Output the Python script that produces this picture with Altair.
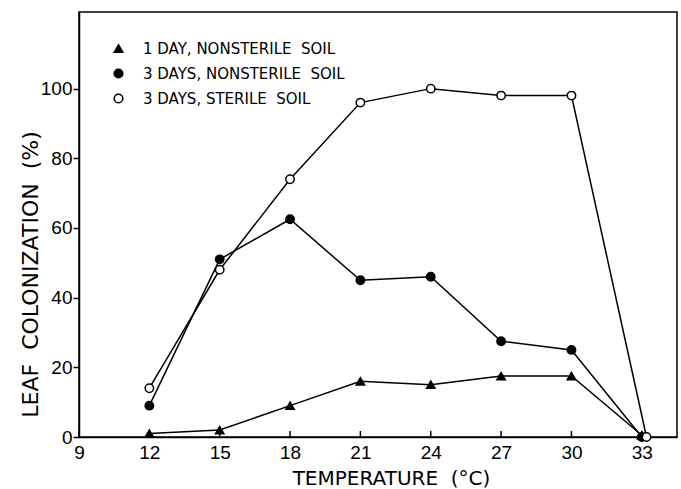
import altair as alt
import pandas as pd

temps = [12, 15, 18, 21, 24, 27, 30, 33]
temps_open = [12, 15, 18, 21, 24, 27, 30, 33.2]
day1_nonsterile = [1, 2, 9, 16, 15, 17.5, 17.5, 0.5]
day3_nonsterile = [9, 51, 62.5, 45, 46, 27.5, 25, 0]
day3_sterile = [14, 48, 74, 96, 100, 98, 98, 0]
NB = "\u00a0"
series_names = ["1 DAY, NONSTERILE " + NB + "SOIL",
                "3 DAYS, NONSTERILE " + NB + "SOIL",
                "3 DAYS, STERILE " + NB + "SOIL"]
x_title = "TEMPERATURE " + NB + "(°C)"
y_title = "LEAF " + NB + "COLONIZATION " + NB + "(%)"
x_ticks = [9, 12, 15, 18, 21, 24, 27, 30, 33]
y_ticks = [0, 20, 40, 60, 80, 100]

rows = []
for xs, vals, name in [(temps, day1_nonsterile, series_names[0]),
                       (temps, day3_nonsterile, series_names[1]),
                       (temps_open, day3_sterile, series_names[2])]:
    for t, v in zip(xs, vals):
        rows.append({"temp": t, "col": v, "series": name})
df = pd.DataFrame(rows)
ticks_df = pd.DataFrame({"t": x_ticks})

W, H = 598, 425
FONT = "DejaVu Sans"
NUMFONT = "Liberation Sans"

xscale = alt.Scale(domain=[9, 34.5], nice=False, zero=False)
yscale = alt.Scale(domain=[0, 122], nice=False)

x_enc = alt.X("temp:Q", scale=xscale,
              axis=alt.Axis(values=x_ticks, title=x_title, ticks=False,
                            grid=False, labelFontSize=19, titleFontSize=20,
                            labelFont=NUMFONT, labelPadding=6, labelFlush=False,
                            titleBaseline="alphabetic", titleX=312, titleY=47))
y_enc = alt.Y("col:Q", scale=yscale,
              axis=alt.Axis(values=y_ticks, title=y_title, tickSize=6,
                            grid=False, labelFontSize=19, titleFontSize=22,
                            labelFont=NUMFONT, labelPadding=1, labelFlush=False,
                            titleX=-37, titleY=262))

lines = alt.Chart(df).mark_line(color="black", strokeWidth=1.5).encode(
    x=x_enc, y=y_enc, detail="series:N", order="temp:Q"
)

points = alt.Chart(df).mark_point(size=70, strokeWidth=1.5, opacity=1).encode(
    x="temp:Q", y="col:Q",
    shape=alt.Shape("series:N", title=None,
                    scale=alt.Scale(domain=series_names, range=["triangle-up", "circle", "circle"])),
    fill=alt.Fill("series:N", title=None,
                  scale=alt.Scale(domain=series_names, range=["black", "black", "white"])),
    stroke=alt.Stroke("series:N", title=None,
                      scale=alt.Scale(domain=series_names, range=["black", "black", "black"])),
)

xticks = alt.Chart(ticks_df).mark_rule(color="black", strokeWidth=1.5).encode(
    x=alt.X("t:Q", scale=xscale), y=alt.value(H), y2=alt.value(H - 6)
)

chart = alt.layer(lines, xticks, points).properties(
    width=W, height=H,
    autosize=alt.AutoSizeParams(type="none"),
    padding={"left": 79, "top": 12, "right": 4, "bottom": 52},
    background="white",
).configure_view(
    stroke="black", strokeWidth=1.5
).configure_axis(
    domainColor="black", domainWidth=1.5, tickColor="black", tickWidth=1.5,
    labelColor="black", titleColor="black", titleFont=FONT,
    titleFontWeight="normal"
).configure_legend(
    orient="none", legendX=32, legendY=29, labelFont=FONT, labelFontSize=15,
    labelColor="black", symbolSize=75, symbolStrokeWidth=1.5, rowPadding=9,
    labelOffset=17, labelLimit=400
)

chart.save("out.html", embed_options={"renderer": "svg", "actions": False})
